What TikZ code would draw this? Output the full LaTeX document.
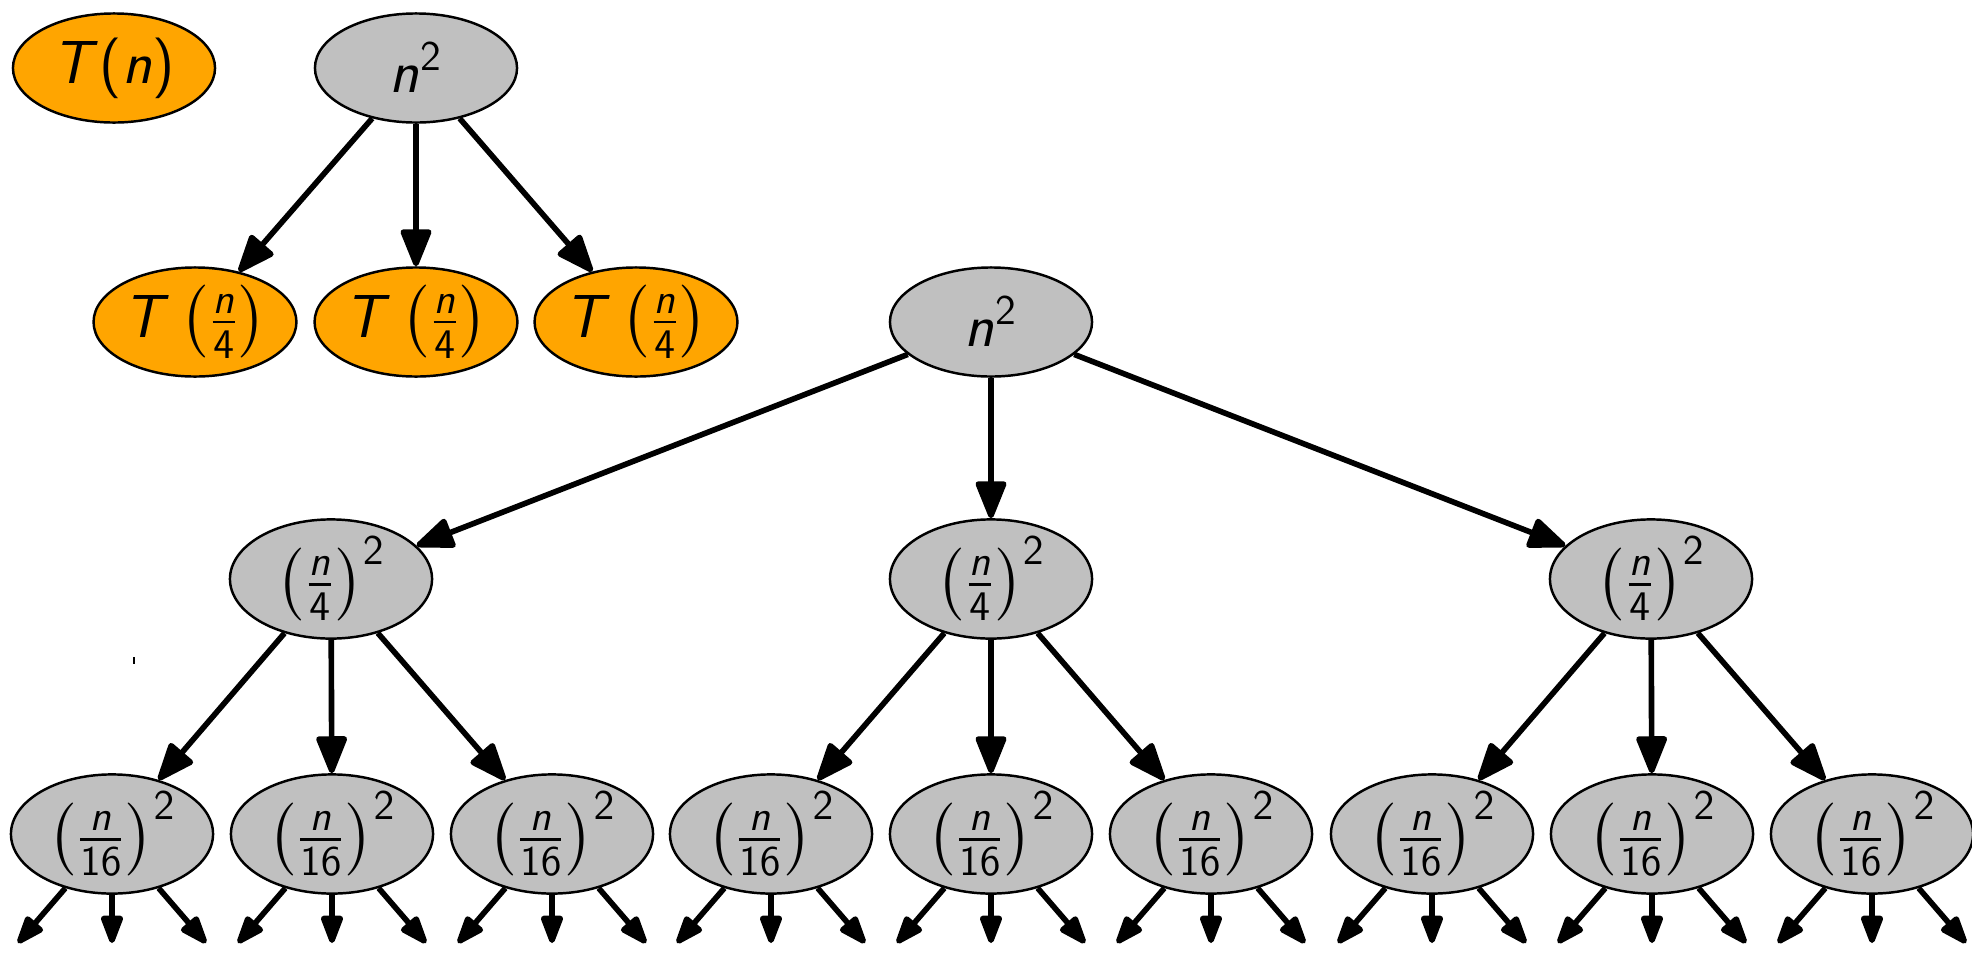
\documentclass[tikz,border=0pt]{standalone}
\usepackage{amsmath}
\usepackage{xcolor}
\usepackage{tikz}
\usetikzlibrary{positioning,shapes.geometric,arrows.meta}

% sans serif letters and digits in math
\DeclareSymbolFont{sfit}{OT1}{cmss}{m}{sl}
\DeclareSymbolFont{sfup}{OT1}{cmss}{m}{n}
\DeclareMathSymbol{T}{\mathalpha}{sfit}{`T}
\DeclareMathSymbol{n}{\mathalpha}{sfit}{`n}
\DeclareMathSymbol{1}{\mathalpha}{sfup}{`1}
\DeclareMathSymbol{2}{\mathalpha}{sfup}{`2}
\DeclareMathSymbol{4}{\mathalpha}{sfup}{`4}
\DeclareMathSymbol{6}{\mathalpha}{sfup}{`6}
\DeclareMathSymbol{(}{\mathopen}{sfup}{`(}
\DeclareMathSymbol{)}{\mathclose}{sfup}{`)}

\definecolor{callorange}{HTML}{FFA500}
\definecolor{costgray}{HTML}{C0C0C0}

\tikzset{
    recnode/.style={ellipse,draw,line width=0.7pt,fill=callorange,minimum width=2.02cm,minimum height=1.09cm,inner sep=0pt,font=\fontsize{18}{22}\selectfont},
    costnode/.style={recnode,fill=costgray},
    split/.style={line width=1.6pt,-{Triangle[length=0.42cm,width=0.32cm,round]}},
    stub/.style={line width=1.6pt,-{Triangle[length=0.33cm,width=0.23cm,round]}}
}

\begin{document}
\begin{tikzpicture}[x=0.01cm,y=-0.01cm]
    \useasboundingbox (0,0) rectangle (1972,954);
    % one step of the recurrence
    \node [recnode] (tn) at (114,68) {$T(n)$};
    \node [costnode] (tr) at (416,68) {$n^2$};
    \node [recnode] (t1) at (195,322) {$T\left(\frac{n}{4}\right)$};
    \node [recnode] (t2) at (416,322) {$T\left(\frac{n}{4}\right)$};
    \node [recnode] (t3) at (636,322) {$T\left(\frac{n}{4}\right)$};
    \draw[split] (tr) -- (t1);
    \draw[split] (tr) -- (t2);
    \draw[split] (tr) -- (t3);
    % unrolled tree
    \node [costnode] (r) at (991,322) {$n^2$};
    \node [costnode] (m1) at (331,579) {$\left(\frac{n}{4}\right)^2$};
    \node [costnode] (m2) at (991,579) {$\left(\frac{n}{4}\right)^2$};
    \node [costnode] (m3) at (1651,579) {$\left(\frac{n}{4}\right)^2$};
    \draw[split] (r) -- (m1);
    \draw[split] (r) -- (m2);
    \draw[split] (r) -- (m3);
    \node [costnode] (l1) at (112,834) {$\left(\frac{n}{16}\right)^2$};
    \node [costnode] (l2) at (332,834) {$\left(\frac{n}{16}\right)^2$};
    \node [costnode] (l3) at (552,834) {$\left(\frac{n}{16}\right)^2$};
    \node [costnode] (l4) at (771,834) {$\left(\frac{n}{16}\right)^2$};
    \node [costnode] (l5) at (991,834) {$\left(\frac{n}{16}\right)^2$};
    \node [costnode] (l6) at (1211,834) {$\left(\frac{n}{16}\right)^2$};
    \node [costnode] (l7) at (1432,834) {$\left(\frac{n}{16}\right)^2$};
    \node [costnode] (l8) at (1652,834) {$\left(\frac{n}{16}\right)^2$};
    \node [costnode] (l9) at (1872,834) {$\left(\frac{n}{16}\right)^2$};
    \draw[split] (m1) -- (l1);
    \draw[split] (m1) -- (l2);
    \draw[split] (m1) -- (l3);
    \draw[split] (m2) -- (l4);
    \draw[split] (m2) -- (l5);
    \draw[split] (m2) -- (l6);
    \draw[split] (m3) -- (l7);
    \draw[split] (m3) -- (l8);
    \draw[split] (m3) -- (l9);
    % the tree goes on below
    \foreach \i in {1,...,9} {
        \path (l\i) ++(-94,109) coordinate (l\i w) ++(94,0) coordinate (l\i s) ++(94,0) coordinate (l\i e);
        \draw[stub] (l\i) -- (l\i w);
        \draw[stub] (l\i) -- (l\i s);
        \draw[stub] (l\i) -- (l\i e);
    }
    \draw[line width=0.6pt] (134,657) -- (134,664);
\end{tikzpicture}
\end{document}
